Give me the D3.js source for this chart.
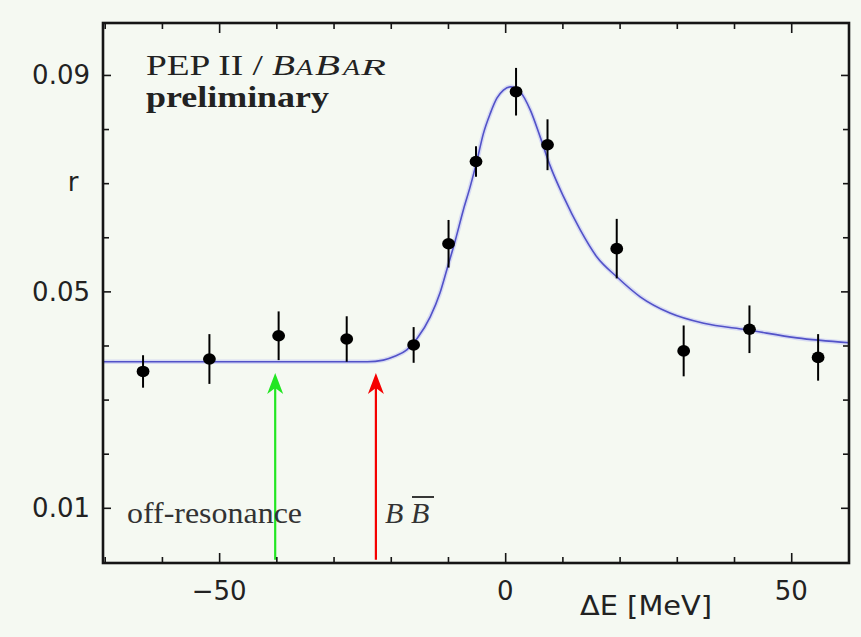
<!DOCTYPE html>
<html>
<head>
<meta charset="utf-8">
<script src="https://cdn.jsdelivr.net/npm/d3@7"></script>
<style>
  html, body { margin: 0; padding: 0; background: #f5f9f2; }
  svg { display: block; }
</style>
</head>
<body>
<script>
// ---- data ----
const deltaE = [-63.3, -51.7, -39.6, -27.7, -16.0, -9.9, -5.1, 1.9, 7.4, 19.5, 31.2, 42.7, 54.7];
const ratio  = [0.0352, 0.0375, 0.0418, 0.0412, 0.0401, 0.0588, 0.0740, 0.0869, 0.0771, 0.0579, 0.0390, 0.0430, 0.0378];
const ratioErr = [0.0030, 0.0046, 0.0045, 0.0042, 0.0033, 0.0044, 0.0028, 0.0044, 0.0047, 0.0055, 0.0047, 0.0044, 0.0043];

const fitE = [-70.3, -24.1, -21.3, -19.3, -17.2, -15.4, -13.1, -11.4, -10.2, -8.7, -7.3, -6.1, -4.9, -3.8, -2.6, -1.45, -0.3, 0.9, 2.6, 4.4, 6.1, 7.9, 10.2, 13.1, 16.0, 19.5, 23.6, 28.8, 34.7, 42.3, 51.0, 60.1];
const fitR = [0.0370, 0.0370, 0.0373, 0.0380, 0.0392, 0.0413, 0.0453, 0.0497, 0.0540, 0.0595, 0.0651, 0.0694, 0.0743, 0.0792, 0.0829, 0.0857, 0.0872, 0.0878, 0.0869, 0.0835, 0.0786, 0.0731, 0.0675, 0.0614, 0.0564, 0.0527, 0.0490, 0.0460, 0.0441, 0.0429, 0.0414, 0.0405];

const xTicks = [-70, -60, -50, -40, -30, -20, -10, 0, 10, 20, 30, 40, 50, 60];
const xTickLabels = [-50, 0, 50];
const yTicks = [0.01, 0.02, 0.03, 0.04, 0.05, 0.06, 0.07, 0.08, 0.09];
const yTickLabels = [0.01, 0.05, 0.09];
const yTitleAt = 0.07;

const arrowE = [-40.2, -22.6];
const arrowColors = ["#22e622", "#f50000"];
const arrowTip = 0.0349;
const arrowBase = 0.0004;

const xDomain = [-70.3, 60.1];
const yDomain = [-0.0002, 0.0996];

// ---- layout ----
const W = 861, H = 637;
const L = 103, R = 849, T = 23, B = 563;

const svg = d3.select("body").append("svg").attr("width", W).attr("height", H);
svg.append("rect").attr("width", W).attr("height", H).attr("fill", "#f5f9f2");

const x = d3.scaleLinear().domain(xDomain).range([L, R]);
const y = d3.scaleLinear().domain(yDomain).range([B, T]);

svg.append("defs").append("clipPath").attr("id", "clip")
  .append("rect").attr("x", L).attr("y", T).attr("width", R - L).attr("height", B - T);

// ---- fit curve ----
const line = d3.line().x((d, i) => x(fitE[i])).y((d, i) => y(fitR[i])).curve(d3.curveMonotoneX);
const g = svg.append("g").attr("clip-path", "url(#clip)");
g.append("path").datum(fitE).attr("d", line).attr("fill", "none")
  .attr("stroke", "#d0d3f2").attr("stroke-width", 4.5).attr("opacity", 0.8);
g.append("path").datum(fitE).attr("d", line).attr("fill", "none")
  .attr("stroke", "#5252c8").attr("stroke-width", 1.6);

// ---- arrows ----
arrowE.forEach((e, i) => {
  const ax = x(e), ty = y(arrowTip), by = y(arrowBase);
  svg.append("line").attr("x1", ax).attr("x2", ax).attr("y1", ty + 12).attr("y2", by)
    .attr("stroke", arrowColors[i]).attr("stroke-width", 2.2);
  svg.append("path")
    .attr("d", `M${ax},${ty} L${ax - 8},${ty + 21} L${ax},${ty + 15} L${ax + 8},${ty + 21} Z`)
    .attr("fill", arrowColors[i]);
});

// ---- data points ----
const pts = svg.append("g");
deltaE.forEach((e, i) => {
  pts.append("line").attr("x1", x(e)).attr("x2", x(e))
    .attr("y1", y(ratio[i] - ratioErr[i])).attr("y2", y(ratio[i] + ratioErr[i]))
    .attr("stroke", "#000").attr("stroke-width", 2);
  pts.append("ellipse").attr("cx", x(e)).attr("cy", y(ratio[i]))
    .attr("rx", 6.4).attr("ry", 5.8).attr("fill", "#000");
});

// ---- axes (frame with inward ticks on all sides) ----
const axisColor = "#151515";
const xb = d3.axisBottom(x).tickValues(xTicks).tickFormat("").tickSizeOuter(0).tickSize(-6);
const xt = d3.axisTop(x).tickValues(xTicks).tickFormat("").tickSizeOuter(0).tickSize(-6);
const yl = d3.axisLeft(y).tickValues(yTicks).tickFormat("").tickSizeOuter(0).tickSize(-6);
const yr = d3.axisRight(y).tickValues(yTicks).tickFormat("").tickSizeOuter(0).tickSize(-6);

function styleAxis(sel) {
  sel.select(".domain").remove();
  sel.selectAll(".tick line").attr("stroke", axisColor).attr("stroke-width", 1.6);
}
svg.append("g").attr("transform", `translate(0,${B})`).call(xb).call(styleAxis)
  .selectAll(".tick line").attr("y2", d => xTickLabels.includes(d) ? -10 : -6);
svg.append("g").attr("transform", `translate(0,${T})`).call(xt).call(styleAxis)
  .selectAll(".tick line").attr("y2", d => xTickLabels.includes(d) ? 10 : 6);
svg.append("g").attr("transform", `translate(${L},0)`).call(yl).call(styleAxis)
  .selectAll(".tick line").attr("x2", d => yTickLabels.includes(d) ? 8 : 6);
svg.append("g").attr("transform", `translate(${R},0)`).call(yr).call(styleAxis)
  .selectAll(".tick line").attr("x2", d => yTickLabels.includes(d) ? -8 : -6);

svg.append("rect").attr("x", L).attr("y", T).attr("width", R - L).attr("height", B - T)
  .attr("fill", "none").attr("stroke", axisColor).attr("stroke-width", 2.6);

// tick labels
const sans = "'DejaVu Sans', sans-serif";
const fmtY = d3.format(".2f");
yTickLabels.forEach(v => {
  svg.append("text").attr("x", 90).attr("y", y(v) + 9.5).attr("text-anchor", "end")
    .attr("font-family", sans).attr("font-size", 26).attr("fill", "#222").text(fmtY(v));
});
svg.append("text").attr("x", 73).attr("y", y(yTitleAt) + 8).attr("text-anchor", "middle")
  .attr("font-family", sans).attr("font-size", 26).attr("fill", "#222").text("r");

const fmtX = d => (d < 0 ? "\u2212" + Math.abs(d) : String(d));
xTickLabels.forEach(v => {
  svg.append("text").attr("x", x(v)).attr("y", 600).attr("text-anchor", "middle")
    .attr("font-family", sans).attr("font-size", 26).attr("fill", "#222").text(fmtX(v));
});
svg.append("text").attr("x", 580).attr("y", 615)
  .attr("font-family", sans).attr("font-size", 27).attr("fill", "#222")
  .attr("textLength", 132).attr("lengthAdjust", "spacingAndGlyphs").text("\u0394E [MeV]");

// ---- annotations ----
const serif = "'Liberation Serif', 'Times New Roman', serif";
svg.append("text").attr("x", 146).attr("y", 75).attr("font-family", serif).attr("font-size", 30)
  .attr("fill", "#222").attr("textLength", 117).attr("lengthAdjust", "spacingAndGlyphs").text("PEP II /");
const babar = [["B", 272, 30, 23], ["A", 296, 23, 17], ["B", 315, 30, 25], ["A", 343, 23, 17], ["R", 361, 23, 25]];
babar.forEach(([c, px, fs, w]) => {
  svg.append("text").attr("x", px).attr("y", 75).attr("font-family", serif).attr("font-size", fs)
    .attr("font-style", "italic").attr("fill", "#222")
    .attr("textLength", w).attr("lengthAdjust", "spacingAndGlyphs").text(c);
});
svg.append("text").attr("x", 146).attr("y", 107).attr("font-family", serif).attr("font-size", 29)
  .attr("font-weight", "bold").attr("fill", "#222")
  .attr("textLength", 183).attr("lengthAdjust", "spacingAndGlyphs").text("preliminary");

svg.append("text").attr("x", 127).attr("y", 523).attr("font-family", serif).attr("font-size", 30)
  .attr("fill", "#333").attr("textLength", 175).attr("lengthAdjust", "spacingAndGlyphs").text("off-resonance");

const bb = svg.append("text").attr("y", 523).attr("font-family", serif).attr("font-size", 30)
  .attr("font-style", "italic").attr("fill", "#333");
bb.append("tspan").attr("x", 385).text("B");
bb.append("tspan").attr("x", 411).text("B");
svg.append("line").attr("x1", 412).attr("x2", 434).attr("y1", 497).attr("y2", 497)
  .attr("stroke", "#222").attr("stroke-width", 1.8);
</script>
</body>
</html>
